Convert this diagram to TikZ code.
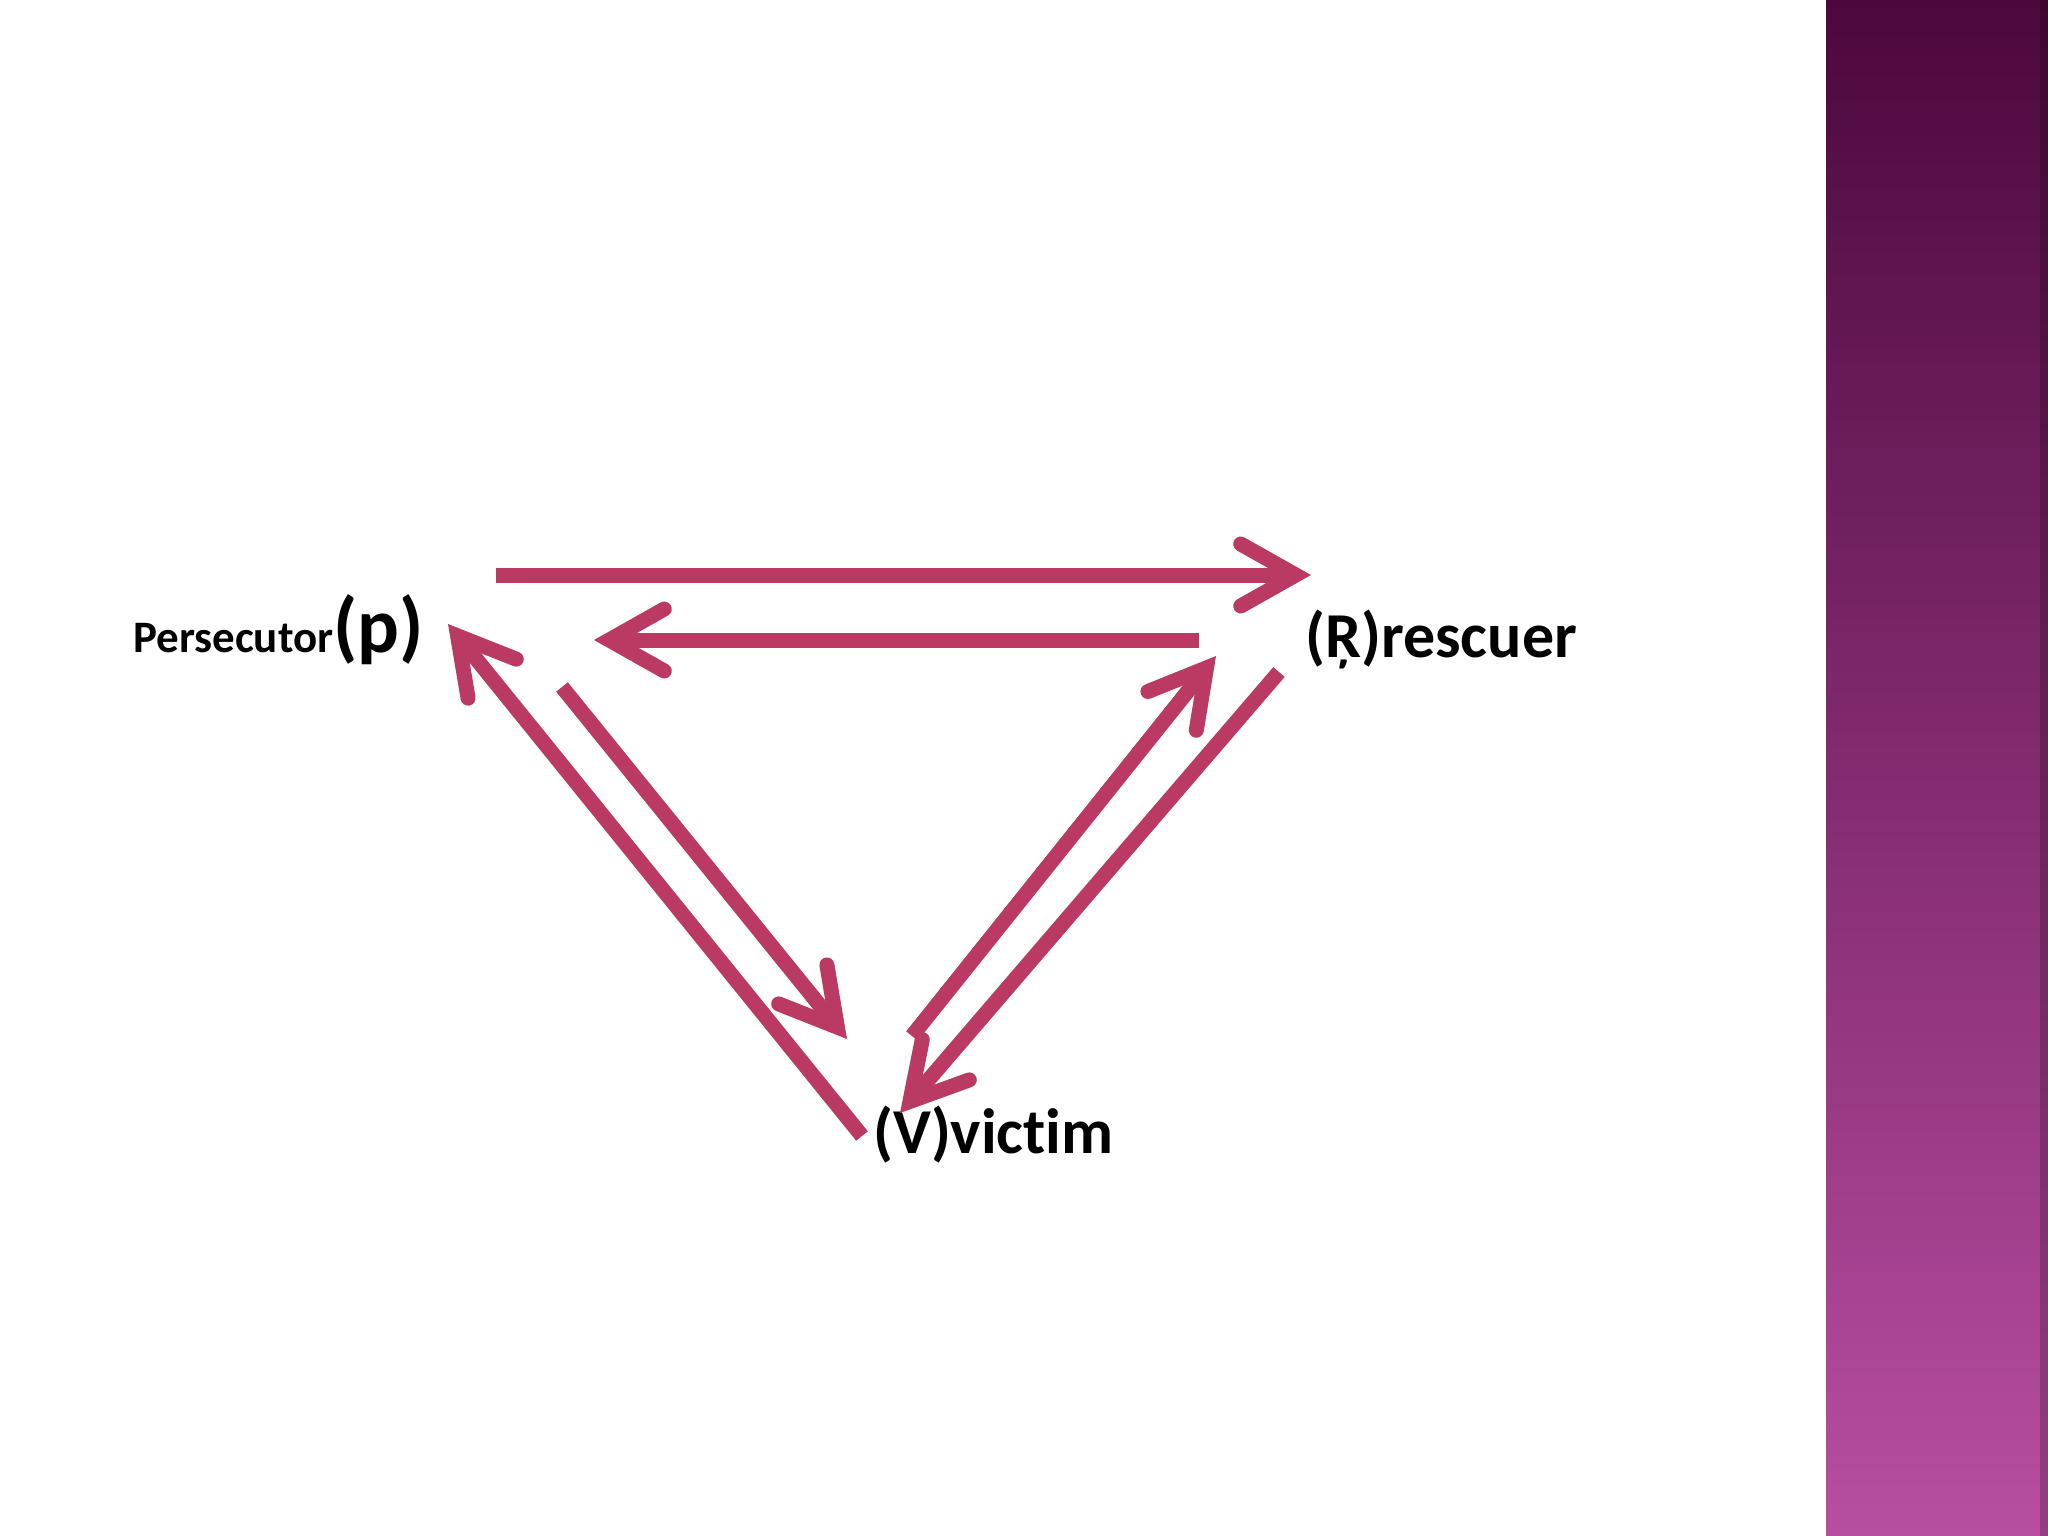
\documentclass[tikz,border=0pt]{standalone}
\usepackage{fontspec}
\setmainfont{Carlito}[Ligatures=NoCommon]
\usetikzlibrary{arrows.meta}
\definecolor{arrowpink}{RGB}{186,58,100}
\definecolor{bartop}{RGB}{76,8,60}
\definecolor{barbottom}{RGB}{184,78,162}
\begin{document}
\begin{tikzpicture}[x=1pt,y=-1pt]
\tikzstyle{every node}+=[inner sep=0pt]
\tikzstyle{role}=[anchor=base west, font=\bfseries]
\tikzstyle{dramaarrow}=[draw=arrowpink, line width=15pt, -{Straight Barb[length=55pt,width=62pt,line join=miter,line cap=round]}]

\useasboundingbox (0,0) rectangle (2048,1536);
\fill [white] (0,0) rectangle (2048,1536);
\shade [top color=bartop, bottom color=barbottom] (1826,0) rectangle (2048,1536);
\fill [black, opacity=0.2] (2040,0) rectangle (2048,1536);

\node [role] (P) at (133,652) {\fontsize{45}{45}\selectfont Persecutor\fontsize{78}{78}\selectfont(p)};
\node [role] (R) at (1305,657) {\fontsize{64}{64}\selectfont(Ŗ)rescuer};
\node [role] (V) at (873,1153) {\fontsize{64}{64}\selectfont(V)victim};

\coordinate (pr-s) at (496,575);
\coordinate (pr-e) at (1311,575);
\coordinate (rp-s) at (1199,640);
\coordinate (rp-e) at (594,640);
\coordinate (vp-s) at (862,1136);
\coordinate (vp-e) at (448,624);
\coordinate (pv-s) at (562,687);
\coordinate (pv-e) at (847,1039);
\coordinate (vr-s) at (912,1036);
\coordinate (vr-e) at (1216,656);
\coordinate (rv-s) at (1279,672);
\coordinate (rv-e) at (900,1113);

\draw [dramaarrow] (pr-s) -- (pr-e);
\draw [dramaarrow] (rp-s) -- (rp-e);
\draw [dramaarrow] (vp-s) -- (vp-e);
\draw [dramaarrow] (pv-s) -- (pv-e);
\draw [dramaarrow] (vr-s) -- (vr-e);
\draw [dramaarrow] (rv-s) -- (rv-e);
\end{tikzpicture}
\end{document}
